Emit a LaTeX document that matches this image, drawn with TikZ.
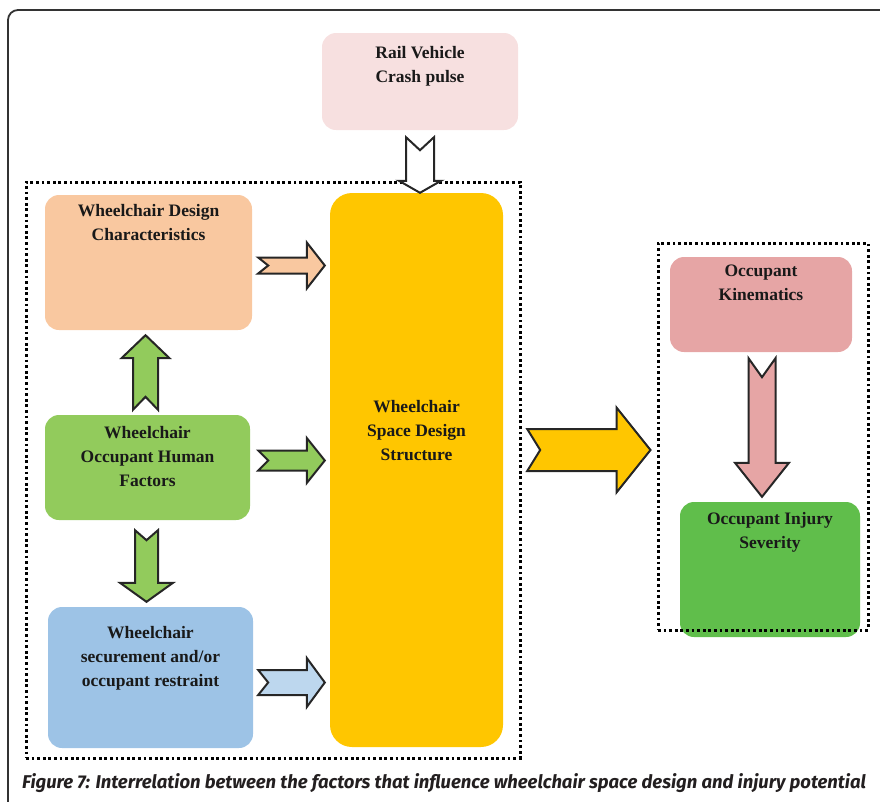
\documentclass[tikz,border=0pt]{standalone}
\usepackage{fontspec}
\setmainfont{Liberation Serif}
\newfontfamily\capfont{Fira Sans}
\usetikzlibrary{positioning,calc}

\definecolor{crashpink}{RGB}{247,224,224}
\definecolor{peach}{RGB}{249,200,160}
\definecolor{leafgreen}{RGB}{146,203,92}
\definecolor{skyblue}{RGB}{157,195,230}
\definecolor{paleblue}{RGB}{189,215,238}
\definecolor{amber}{RGB}{255,198,0}
\definecolor{rosepink}{RGB}{230,165,165}
\definecolor{grassgreen}{RGB}{96,190,75}
\definecolor{capgray}{RGB}{35,31,32}

\tikzset{
  box/.style={rounded corners=14pt, inner sep=0pt, draw=none},
  lbl/.style={align=center, inner sep=0pt, text=black!90,
    font=\bfseries\fontsize{17.5}{24}\selectfont},
  group/.style={draw=black, line width=3pt, dash pattern=on 2.8pt off 2.8pt},
  fat/.style={draw=black!85, line width=2pt, line join=miter},
}

% fill, from, to, shaft half width, head half width, head length, notch
\newcommand{\fatarrow}[7]{%
  \draw[fat, fill=#1] let \p1=#2, \p2=#3,
    \n1={atan2(\y2-\y1,\x2-\x1)}, \n2={veclen(\x2-\x1,\y2-\y1)} in
    [shift={(\p1)}, rotate=\n1]
    (0,-#4) -- (\n2-#6,-#4) -- (\n2-#6,-#5) -- (\n2,0) -- (\n2-#6,#5)
    -- (\n2-#6,#4) -- (0,#4) -- (#7,0) -- cycle;}

\begin{document}
\begin{tikzpicture}[x=1pt, y=-1pt]
	\useasboundingbox (0,0) rectangle (880,801);
	\draw[line width=1.8pt, black!80, rounded corners=10pt] (8,830) |- (900,10);

	\node[box, fill=crashpink, minimum width=196pt, minimum height=97pt] (rvc) at (420,81.5) {};
	\node[box, fill=peach, minimum width=207pt, minimum height=135pt] (wdc) at (148.5,262.5) {};
	\node[box, fill=leafgreen, minimum width=205pt, minimum height=105pt] (who) at (147.5,467.5) {};
	\node[box, fill=skyblue, minimum width=205pt, minimum height=141pt] (wsr) at (150.5,677.5) {};
	\node[box, fill=amber, rounded corners=22pt, minimum width=173pt, minimum height=554pt] (wss) at (416.5,470) {};
	\node[box, fill=rosepink, minimum width=182pt, minimum height=95pt] (ok) at (761,304.5) {};
	\node[box, fill=grassgreen, minimum width=180pt, minimum height=135pt] (ois) at (770,569.5) {};

	\node[group, minimum width=494pt, minimum height=576pt] (leftgrp) at (273,470) {};
	\node[group, minimum width=210pt, minimum height=387pt] (rightgrp) at (763,436.5) {};

	\fatarrow{white}{($(rvc.south)+(0,7)$)}{(rvc.south |- wss.north)}{14}{21}{12}{13}
	\fatarrow{peach}{($(wdc.east)+(6,3)$)}{($(wss.west |- wdc.east)+(-5,3)$)}{8}{23}{18}{10}
	\fatarrow{leafgreen}{($(who.north)+(-2,-5)$)}{($(who.north |- wdc.south)+(-2,5)$)}{12.5}{24}{23}{13}
	\fatarrow{leafgreen}{($(who.east)+(8,-7)$)}{($(wss.west |- who.east)+(-5,-7)$)}{10}{22.5}{18}{10}
	\fatarrow{leafgreen}{($(who.south)+(-1,10)$)}{($(who.south |- wsr.north)+(-1,-5)$)}{11.5}{26.5}{19}{10}
	\fatarrow{paleblue}{($(wsr.east)+(5,5)$)}{($(wss.west |- wsr.east)+(-5,5)$)}{12.5}{24.5}{18}{10}
	\fatarrow{amber}{($(wss.east)+(24,-20)$)}{($(rightgrp.west)+(-6,13.5)$)}{21}{42.5}{34}{13}
	\fatarrow{rosepink}{($(ok.south)+(1,6)$)}{($(ok.south |- ois.north)+(1,-5)$)}{13.5}{27}{34}{19}

	\node[lbl, below=13pt of rvc.north] (rvct) {Rail Vehicle\\Crash pulse};
	\node[lbl, below=9pt of wdc.north] (wdct) {Wheelchair Design\\Characteristics};
	\node[lbl, below=11pt of who.north] (whot) {Wheelchair\\Occupant Human\\Factors};
	\node[lbl, below=19pt of wsr.north] (wsrt) {Wheelchair\\securement and/or\\occupant restraint};
	\node[lbl, below=207pt of wss.north] (wsst) {Wheelchair\\Space Design\\Structure};
	\node[lbl, below=8pt of ok.north] (okt) {Occupant\\Kinematics};
	\node[lbl, below=10pt of ois.north] (oist) {Occupant Injury\\Severity};

	\node[anchor=west, inner sep=0pt, text=capgray, font=\capfont\bfseries\itshape\fontsize{18.5}{20}\selectfont]
		(caption) at (22,783) {Figure 7: Interrelation between the factors that influence wheelchair space design and injury potential};
\end{tikzpicture}
\end{document}
